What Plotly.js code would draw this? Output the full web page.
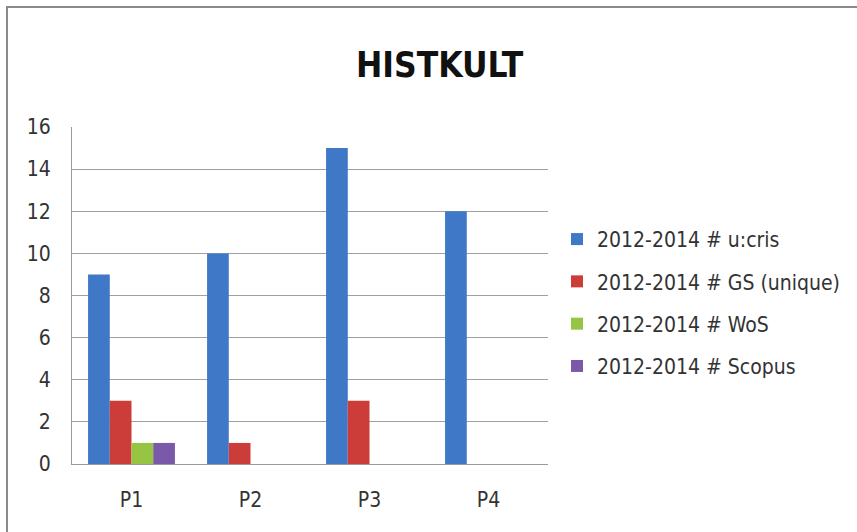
<!DOCTYPE html>
<html>
<head>
<meta charset="utf-8">
<script src="https://cdn.plot.ly/plotly-3.0.1.min.js"></script>
<style>
html,body{margin:0;padding:0;background:#fff;overflow:hidden;}
#chart{position:absolute;left:0;top:0;width:857px;height:532px;}
#frame{position:absolute;left:6px;top:6px;width:900px;height:600px;border:2px solid #8a8a8a;pointer-events:none;}
</style>
</head>
<body>
<div id="chart"></div>
<div id="frame"></div>
<script>
const categories = ["P1", "P2", "P3", "P4"];
const seriesNames = ["2012-2014 # u:cris", "2012-2014 # GS (unique)", "2012-2014 # WoS", "2012-2014 # Scopus"];
const ucris = [9, 10, 15, 12];
const gs = [3, 1, 3, 0];
const wos = [1, 0, 0, 0];
const scopus = [1, 0, 0, 0];
const yTicks = [0, 2, 4, 6, 8, 10, 12, 14, 16];

const colors = ["#3f78c6", "#cc3d3a", "#96c443", "#7a5aa8"];
const font = "'Liberation Sans Narrow', 'DejaVu Sans Condensed', sans-serif";
const values = [ucris, gs, wos, scopus];

const traces = values.map((v, i) => ({
  type: "bar",
  name: seriesNames[i],
  x: categories,
  y: v,
  marker: {color: colors[i]},
  legendgroup: "g" + i
}));

const layout = {
  width: 857, height: 532,
  margin: {l: 72, r: 309, t: 127, b: 68, autoexpand: false},
  paper_bgcolor: "#fff", plot_bgcolor: "#fff",
  barmode: "group",
  bargap: 0.27,
  bargroupgap: 0,
  title: {text: "<b>HISTKULT</b>", x: 0.513, xref: "container", y: 0.878, yref: "container", yanchor: "middle",
          font: {family: font, size: 35, color: "#111"}},
  xaxis: {
    type: "category",
    showgrid: false,
    showline: true, linecolor: "#9a9a9a", linewidth: 1,
    ticks: "",
    ticklabelstandoff: 17,
    tickfont: {family: font, size: 21, color: "#333"}
  },
  yaxis: {
    range: [0, 16],
    tickvals: yTicks,
    ticktext: yTicks.map(String),
    showgrid: true, gridcolor: "#a0a0a0", gridwidth: 1,
    showline: true, linecolor: "#9a9a9a", linewidth: 1,
    zeroline: false,
    ticks: "",
    ticklabelstandoff: 16,
    tickfont: {family: font, size: 21, color: "#333"}
  },
  showlegend: true,
  legend: {
    x: (557 - 72) / 476, xanchor: "left", y: 0.478, yanchor: "middle",
    traceorder: "grouped", tracegroupgap: 12,
    font: {family: font, size: 21, color: "#333"},
    itemwidth: 30
  }
};

Plotly.newPlot("chart", traces, layout, {displayModeBar: false, staticPlot: true});
</script>
</body>
</html>
